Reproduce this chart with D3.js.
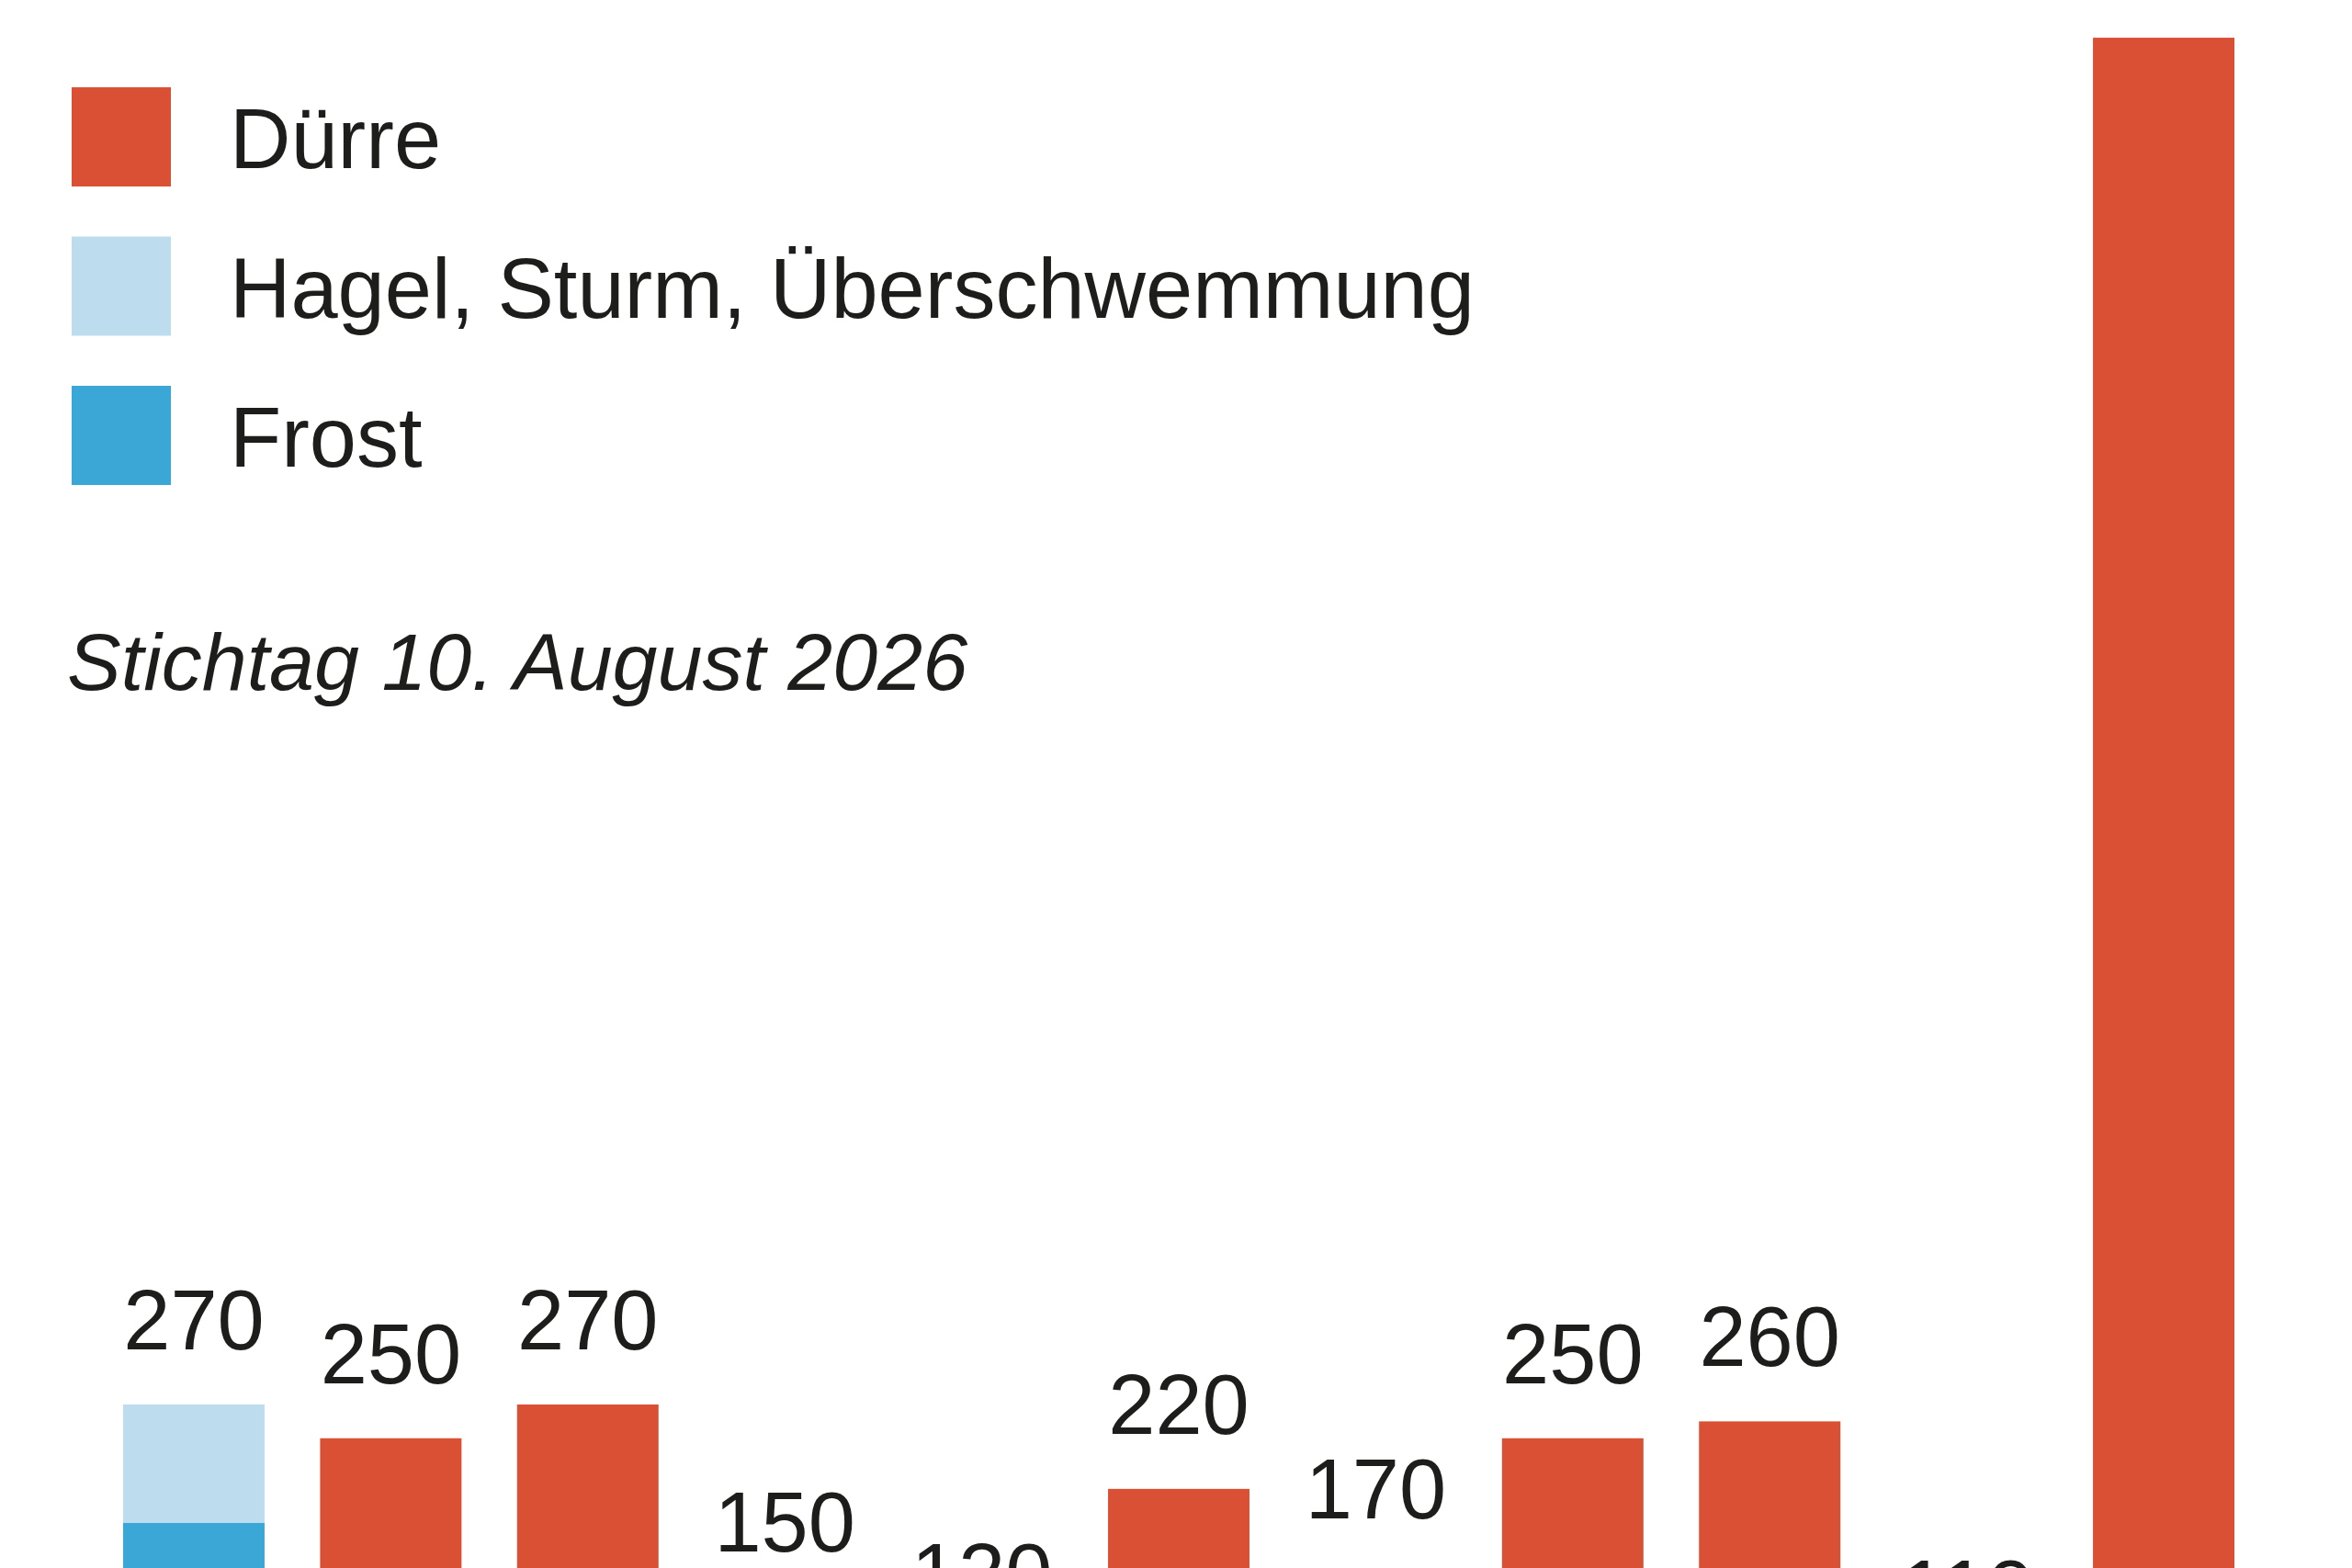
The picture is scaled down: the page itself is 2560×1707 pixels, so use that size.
<!DOCTYPE html>
<html>
<head>
<meta charset="utf-8">
<script src="https://cdn.jsdelivr.net/npm/d3@7"></script>
<style>
  html, body { margin: 0; padding: 0; background: #fff; }
  svg { display: block; font-family: "Liberation Sans", Arial, sans-serif; }
</style>
</head>
<body>
<div id="chart"></div>
<script>
// data (Mio. Euro)
var years   = ["2016", "2017", "2018", "2019", "2020", "2021", "2022", "2023", "2024", "2025", "2026"];
var duerre  = [0, 250, 270, 150, 120, 220, 170, 250, 260, 110, 1080];
var hagel   = [70, 0, 0, 0, 0, 0, 0, 0, 0, 0, 0];
var frost   = [200, 0, 0, 0, 0, 0, 0, 0, 0, 0, 0];
var seriesNames = ["Dürre", "Hagel, Sturm, Überschwemmung", "Frost"];
var subtitle = "Stichtag 10. August 2026";

var colors = {"Dürre": "#da5035", "Hagel, Sturm, Überschwemmung": "#bddcee", "Frost": "#3aa7d7"};

var width = 2560, height = 1707;

var svg = d3.select("#chart").append("svg")
    .attr("width", width)
    .attr("height", height)
    .style("overflow", "hidden");

// build rows for the stack
var rows = years.map(function(y, i) {
  return {year: y, "Dürre": duerre[i], "Hagel, Sturm, Überschwemmung": hagel[i], "Frost": frost[i]};
});

// stack order bottom -> top: Dürre, Frost, Hagel
var stack = d3.stack().keys(["Dürre", "Frost", "Hagel, Sturm, Überschwemmung"]);
var layers = stack(rows);

// scales (the baseline sits below the visible area)
var x = d3.scaleBand().domain(years).range([134, 2432]).paddingInner(0.282).paddingOuter(0);
var y = d3.scaleLinear().domain([0, 1100]).range([2025, 2025 - 1100 * 1.837]);

// bars
svg.append("g").selectAll("g")
    .data(layers)
  .enter().append("g")
    .attr("fill", function(d) { return colors[d.key]; })
  .selectAll("rect")
    .data(function(d) { return d; })
  .enter().append("rect")
    .attr("x", function(d) { return x(d.data.year); })
    .attr("y", function(d) { return y(d[1]); })
    .attr("width", x.bandwidth())
    .attr("height", function(d) { return y(d[0]) - y(d[1]); });

// totals above the bars
svg.append("g").selectAll("text")
    .data(rows)
  .enter().append("text")
    .attr("x", function(d) { return x(d.year) + x.bandwidth() / 2; })
    .attr("y", function(d, i) { return y(duerre[i] + hagel[i] + frost[i]) - 60; })
    .attr("text-anchor", "middle")
    .attr("font-size", 92)
    .attr("fill", "#1d1d1b")
    .text(function(d, i) { return duerre[i] + hagel[i] + frost[i]; });

// legend
var legend = svg.append("g").selectAll("g")
    .data(seriesNames)
  .enter().append("g")
    .attr("transform", function(d, i) { return "translate(78," + (95 + i * 162.5) + ")"; });

legend.append("rect")
    .attr("width", 108)
    .attr("height", 108)
    .attr("fill", function(d) { return colors[d]; });

legend.append("text")
    .attr("x", 172)
    .attr("y", 88)
    .attr("font-size", 92)
    .attr("fill", "#1d1d1b")
    .text(function(d) { return d; });

// subtitle
svg.append("text")
    .attr("x", 73)
    .attr("y", 751)
    .attr("font-size", 88)
    .attr("font-style", "italic")
    .attr("fill", "#1d1d1b")
    .text(subtitle);
</script>
</body>
</html>
